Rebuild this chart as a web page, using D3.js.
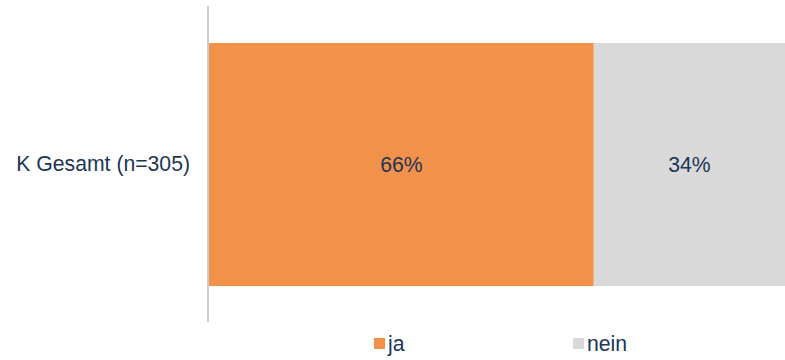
<!DOCTYPE html>
<html><head><meta charset="utf-8">
<script src="https://cdn.jsdelivr.net/npm/d3@7"></script>
<style>body{margin:0;background:#fff}svg{display:block}text{font-family:"Liberation Sans",Arial,sans-serif}</style>
</head><body>
<svg id="c" width="785" height="360"></svg>
<script>
const categories = ["K Gesamt (n=305)"];
const seriesNames = ["ja", "nein"];
const seriesColors = ["#f2914a", "#d9d9d9"];
const jaValues = [66.8];
const neinValues = [33.2];
const valueLabels = [["66%", "34%"]];

const svg = d3.select("#c");
const textColor = "#1b3658";
const fs = 21.2;

const x = d3.scaleLinear().domain([0, 100]).range([209, 785]);
const y = d3.scaleBand().domain(categories).range([43, 286]).padding(0);

const stackData = categories.map((c, i) => ({cat: c, ja: jaValues[i], nein: neinValues[i]}));
const stack = d3.stack().keys(seriesNames)(stackData);

stack.forEach((layer, li) => {
  svg.append("g").selectAll("rect").data(layer).join("rect")
    .attr("x", d => x(d[0]))
    .attr("y", d => y(d.data.cat))
    .attr("width", d => x(d[1]) - x(d[0]))
    .attr("height", y.bandwidth())
    .attr("fill", seriesColors[li]);
  svg.append("g").selectAll("text").data(layer).join("text")
    .attr("x", d => (x(d[0]) + x(d[1])) / 2)
    .attr("y", d => y(d.data.cat) + y.bandwidth() / 2)
    .attr("dy", "0.35em")
    .attr("text-anchor", "middle")
    .attr("font-size", fs)
    .attr("fill", textColor)
    .text((d, i) => valueLabels[i][li]);
});

// axis
const axis = svg.append("g").attr("transform", "translate(208,0)")
  .call(d3.axisLeft(y).tickSize(0).tickPadding(18));
axis.select(".domain").attr("stroke", "#cccccc").attr("stroke-width", 2).attr("d", "M0,6V322");
axis.selectAll("text").attr("font-size", fs).attr("fill", textColor)
  .attr("font-family", "Liberation Sans, Arial, sans-serif");

// legend
const legendX = [374, 573];
const lg = svg.append("g").selectAll("g").data(seriesNames).join("g")
  .attr("transform", (d, i) => `translate(${legendX[i]},338)`);
lg.append("rect").attr("width", 11).attr("height", 11).attr("fill", (d, i) => seriesColors[i]);
lg.append("text").attr("x", 14).attr("y", 5.5).attr("dy", "0.35em")
  .attr("font-size", fs).attr("fill", textColor).text(d => d);
</script>
</body></html>
